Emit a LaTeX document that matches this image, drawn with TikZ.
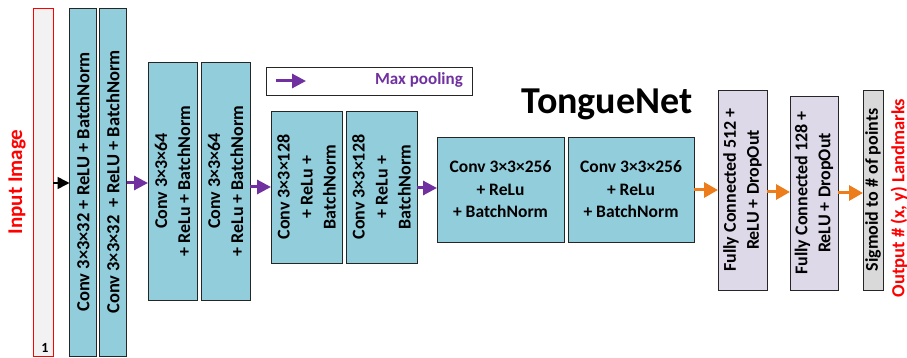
\documentclass[tikz,border=0pt]{standalone}
\usepackage{fontspec}
\setmainfont{Carlito}
\usetikzlibrary{arrows.meta}
\definecolor{convblue}{HTML}{92CDDC}
\definecolor{fcpurple}{HTML}{DDD9E8}
\definecolor{sigray}{HTML}{D9D9D9}
\definecolor{poolpurple}{HTML}{7030A0}
\definecolor{fcorange}{HTML}{ED7D1A}
\definecolor{inred}{HTML}{FF0000}
\tikzset{
  blk/.style={draw=black!85, line width=0.9pt, inner sep=0pt, outer sep=0pt},
  convbox/.style={blk, fill=convblue},
  fcbox/.style={blk, fill=fcpurple},
  sigbox/.style={blk, fill=sigray},
  inbox/.style={draw=inred, line width=0.9pt, fill=black!5, inner sep=0pt, outer sep=0pt},
  vtxt/.style={rotate=90, align=center, font=\fontsize{18}{23}\selectfont\bfseries, inner sep=0pt},
  htxt/.style={align=center, font=\fontsize{17.5}{22.5}\selectfont\bfseries, inner sep=0pt},
  pool/.style={draw=poolpurple, line width=3pt, -{Triangle[length=14pt,width=14pt]}, shorten >=0pt},
  fcarrow/.style={draw=fcorange, line width=3pt, -{Triangle[length=14pt,width=15pt]}},
  inarrow/.style={draw=black, line width=1.6pt, -{Triangle[length=12pt,width=12pt]}},
  redlbl/.style={rotate=90, text=inred, font=\fontsize{21}{22}\selectfont\bfseries, inner sep=0pt}
}
\begin{document}
\begin{tikzpicture}[x=1pt,y=-1pt]
\useasboundingbox (0,0) rectangle (907,358);
% input
\node[inbox, minimum width=20pt, minimum height=348pt] (in) at (43,182) {};
\node[font=\fontsize{14}{14}\selectfont\bfseries, inner sep=0pt] (one) at (45,347.5) {1};
\node[redlbl] (inlbl) at (17,182) {Input Image};
% conv 32
\node[convbox, minimum width=27pt, minimum height=348pt] (c1) at (83,182) {};
\node[vtxt, font=\fontsize{18.5}{23}\selectfont\bfseries] at (c1) {Conv 3×3×32 + ReLU + BatchNorm};
\node[convbox, minimum width=27pt, minimum height=348pt] (c2) at (113,182) {};
\node[vtxt, font=\fontsize{18.5}{23}\selectfont\bfseries] at (c2) {Conv 3×3×32 \ + ReLU + BatchNorm};
% conv 64
\node[convbox, minimum width=49pt, minimum height=238pt] (c3) at (172.5,181) {};
\node[vtxt] at (c3) {Conv 3×3×64\\+ ReLu + BatchNorm};
\node[convbox, minimum width=49pt, minimum height=238pt] (c4) at (225.5,181) {};
\node[vtxt] at (c4) {Conv 3×3×64\\+ ReLu + BatchNorm};
% conv 128
\node[convbox, minimum width=71pt, minimum height=152pt] (c5) at (306.5,187) {};
\node[vtxt] at (c5) {Conv 3×3×128\\+ ReLu +\\BatchNorm};
\node[convbox, minimum width=71pt, minimum height=152pt] (c6) at (381.5,187) {};
\node[vtxt] at (c6) {Conv 3×3×128\\+ ReLu +\\BatchNorm};
% conv 256
\node[convbox, minimum width=127pt, minimum height=105pt] (c7) at (500.5,189.5) {};
\node[htxt] at (c7) {Conv 3×3×256\\+ ReLu\\+ BatchNorm};
\node[convbox, minimum width=126pt, minimum height=105pt] (c8) at (631,189.5) {};
\node[htxt] at (c8) {Conv 3×3×256\\+ ReLu\\+ BatchNorm};
% fully connected
\node[fcbox, minimum width=49pt, minimum height=200pt] (f1) at (742.5,190) {};
\node[vtxt] at (f1) {Fully Connected 512 +\\ReLU + DropOut};
\node[fcbox, minimum width=48pt, minimum height=194pt] (f2) at (814,193) {};
\node[vtxt] at (f2) {Fully Connected 128 +\\ReLU + DropOut};
\node[sigbox, minimum width=20pt, minimum height=200pt] (sg) at (873,190) {};
\node[vtxt] at (sg) {Sigmoid to \# of points};
\node[redlbl, font=\fontsize{18.5}{20}\selectfont\bfseries] (outlbl) at (899,198) {Output \# (x, y) Landmarks};
% title
\node[font=\fontsize{38}{38}\selectfont\bfseries, inner sep=0pt] (title) at (607,104) {TongueNet};
% legend
\node[blk, fill=white, minimum width=206pt, minimum height=28pt] (leg) at (369,81) {};
\coordinate (lega) at (276,81);
\coordinate (legb) at (306,81);
\draw[pool] (lega) -- (legb);
\node[anchor=east, text=poolpurple, font=\fontsize{17}{17}\selectfont\bfseries, inner sep=0pt] (legt) at (463,80) {Max pooling};
% arrows
\draw[inarrow] (in.east |- 0,183) -- (c1.west |- 0,183);
\draw[pool] (c2.east |- 0,183) -- (c3.west |- 0,183);
\draw[pool] (c4.east |- c5.west) -- (c5.west);
\draw[pool] (c6.east |- 0,188) -- (c7.west |- 0,188);
\draw[fcarrow] (c8.east |- 0,190) -- (f1.west |- 0,190);
\draw[fcarrow] (f1.east |- 0,192) -- (f2.west |- 0,192);
\draw[fcarrow] (f2.east |- 0,193) -- (sg.west |- 0,193);
\end{tikzpicture}
\end{document}
